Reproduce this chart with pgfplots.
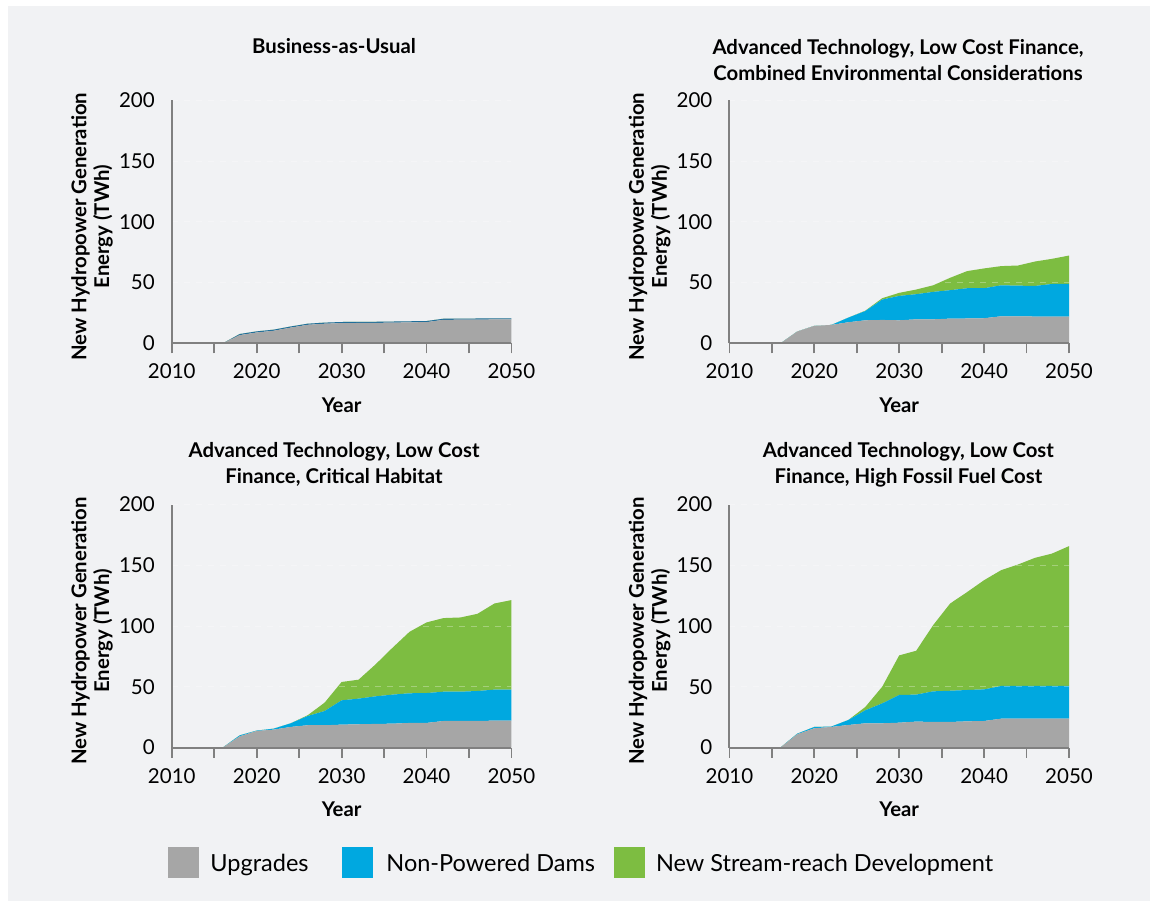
\documentclass[border=0pt]{standalone}
\usepackage{fontspec}
\setmainfont{Lato}
\usepackage{pgfplots}
\pgfplotsset{compat=1.18}
\definecolor{bg}{HTML}{F1F2F4}
\definecolor{upg}{HTML}{A6A6A6}
\definecolor{npd}{HTML}{00A8E0}
\definecolor{nsd}{HTML}{7DBD41}
\definecolor{axc}{HTML}{808080}
\definecolor{npdline}{HTML}{1F6E9A}

\pgfplotsset{
  panel/.style={
    scale only axis, width=169.8bp, height=121.5bp, anchor=south west,
    xmin=2010, xmax=2050, ymin=0, ymax=200,
    axis x line=bottom, axis y line=left,
    axis line style={axc, line width=1bp, -},
    xtick={2010,2015,...,2050},
    xticklabels={2010,,2020,,2030,,2040,,2050},
    ytick={0,50,100,150,200},
    tick align=outside,
    major tick length=5bp,
    xtick style={axc, line width=0.9bp},
    ytick style={draw=none},
    ticklabel style={font=\fontsize{10.3}{12}\selectfont, text=black},
    xticklabel style={yshift=-1.8bp},
    /pgf/number format/assume math mode=true,
    ymajorgrids, grid style={white, dashed, opacity=0.3, line width=0.5bp},
    axis on top,
    stack plots=y,
    xlabel={Year},
    ylabel={New Hydropower Generation\\Energy (TWh)},
    xlabel style={font=\bfseries\fontsize{10.2}{12}\selectfont, at={(axis description cs:0.5,-0.255)}, anchor=center},
    ylabel style={font=\bfseries\fontsize{10.2}{11.5}\selectfont, align=center, at={(axis description cs:-0.235,0.48)}, anchor=center},
  }
}

\begin{document}
\begin{tikzpicture}
\useasboundingbox (0,0) rectangle (575bp,450.5bp);
\fill[white] (0,0) rectangle (575bp,450.5bp);
\fill[bg] (4bp,0) rectangle (575bp,447.5bp);

% Panel 1: Business-as-Usual
\begin{axis}[panel, at={(85.9bp,278.8bp)}]
\addplot[fill=upg, draw=none] coordinates {
(2010,0)(2012,0)(2014,0)(2016,0)(2018,6.8)(2020,9)(2022,10.4)(2024,13)(2026,15.3)(2028,16.2)(2030,16.7)(2032,16.8)(2034,16.9)(2036,17.1)(2038,17.3)(2040,17.5)(2042,19.4)(2044,19.5)(2046,19.6)(2048,19.7)(2050,19.7)} \closedcycle;
\addplot[fill=npdline, draw=none] coordinates {
(2010,0)(2012,0)(2014,0)(2016,0)(2018,0.9)(2020,0.9)(2022,0.9)(2024,0.9)(2026,0.9)(2028,0.9)(2030,0.9)(2032,0.9)(2034,0.9)(2036,0.9)(2038,0.9)(2040,0.9)(2042,0.9)(2044,0.9)(2046,0.9)(2048,0.9)(2050,0.9)} \closedcycle;
\addplot[fill=nsd, draw=none] coordinates {
(2010,0)(2012,0)(2014,0)(2016,0)(2018,0)(2020,0)(2022,0)(2024,0)(2026,0)(2028,0)(2030,0)(2032,0)(2034,0)(2036,0)(2038,0)(2040,0)(2042,0)(2044,0)(2046,0)(2048,0)(2050,0)} \closedcycle;
\end{axis}

% Panel 2: Combined Environmental Considerations
\begin{axis}[panel, at={(364.7bp,278.8bp)}]
\addplot[fill=upg, draw=none] coordinates {
(2010,0)(2012,0)(2014,0)(2016,0)(2018,9.8)(2020,14.4)(2022,15.2)(2024,17.4)(2026,19)(2028,19.3)(2030,19)(2032,19.8)(2034,19.8)(2036,20.4)(2038,20.5)(2040,20.7)(2042,22.3)(2044,22.3)(2046,22.1)(2048,22)(2050,22)} \closedcycle;
\addplot[fill=npd, draw=none] coordinates {
(2010,0)(2012,0)(2014,0)(2016,0)(2018,0)(2020,0)(2022,0)(2024,3.8)(2026,7.6)(2028,16.8)(2030,20.1)(2032,20.7)(2034,22.6)(2036,23.4)(2038,24.9)(2040,24.7)(2042,25.5)(2044,25.2)(2046,25.2)(2048,26.9)(2050,26.9)} \closedcycle;
\addplot[fill=nsd, draw=none] coordinates {
(2010,0)(2012,0)(2014,0)(2016,0)(2018,0)(2020,0)(2022,0)(2024,0)(2026,0.3)(2028,1.1)(2030,2.5)(2032,3.8)(2034,5.4)(2036,10.2)(2038,14.1)(2040,16.3)(2042,15.8)(2044,16.6)(2046,20.1)(2048,20.7)(2050,23.4)} \closedcycle;
\end{axis}

% Panel 3: Critical Habitat
\begin{axis}[panel, at={(85.9bp,76.7bp)}]
\addplot[fill=upg, draw=none] coordinates {
(2010,0)(2012,0)(2014,0)(2016,0)(2018,9.3)(2020,13.7)(2022,14.8)(2024,17)(2026,18.4)(2028,18.4)(2030,18.9)(2032,19.2)(2034,19.5)(2036,19.7)(2038,20.3)(2040,20.3)(2042,21.9)(2044,21.9)(2046,21.9)(2048,22.2)(2050,22.2)} \closedcycle;
\addplot[fill=npd, draw=none] coordinates {
(2010,0)(2012,0)(2014,0)(2016,0)(2018,0.8)(2020,0.3)(2022,0.8)(2024,3)(2026,7.6)(2028,11.7)(2030,20)(2032,21.1)(2034,22.7)(2036,23.9)(2038,24.4)(2040,24.6)(2042,24.1)(2044,24.1)(2046,24.7)(2048,25.5)(2050,25.5)} \closedcycle;
\addplot[fill=nsd, draw=none] coordinates {
(2010,0)(2012,0)(2014,0)(2016,0)(2018,0)(2020,0)(2022,0)(2024,0)(2026,0.6)(2028,6.9)(2030,15.1)(2032,15.6)(2034,26.3)(2036,38.6)(2038,50.6)(2040,58.1)(2042,60.6)(2044,61.1)(2046,63.5)(2048,70.9)(2050,73.7)} \closedcycle;
\end{axis}

% Panel 4: High Fossil Fuel Cost
\begin{axis}[panel, at={(364.7bp,76.7bp)}]
\addplot[fill=upg, draw=none] coordinates {
(2010,0)(2012,0)(2014,0)(2016,0)(2018,11)(2020,15.9)(2022,17)(2024,18.6)(2026,20)(2028,20)(2030,20.5)(2032,21.4)(2034,21.1)(2036,21.1)(2038,21.6)(2040,21.9)(2042,23.8)(2044,23.8)(2046,23.8)(2048,23.8)(2050,23.8)} \closedcycle;
\addplot[fill=npd, draw=none] coordinates {
(2010,0)(2012,0)(2014,0)(2016,0)(2018,0.5)(2020,1.1)(2022,0.3)(2024,4.1)(2026,10.7)(2028,16.4)(2030,22.8)(2032,22.2)(2034,25.2)(2036,25.7)(2038,25.8)(2040,26)(2042,26.9)(2044,26.9)(2046,26.9)(2048,26.9)(2050,26.9)} \closedcycle;
\addplot[fill=nsd, draw=none] coordinates {
(2010,0)(2012,0)(2014,0)(2016,0)(2018,0)(2020,0)(2022,0)(2024,0)(2026,2.7)(2028,13.7)(2030,32.6)(2032,36.1)(2034,54.5)(2036,71.8)(2038,80.6)(2040,89.9)(2042,95.3)(2044,100)(2046,105.5)(2048,109)(2050,115.1)} \closedcycle;
\end{axis}

% Titles
\begin{scope}[every node/.style={font=\bfseries\fontsize{10.2}{13}\selectfont, align=center, anchor=center}]
\node at (167bp,427.5bp) {Business-as-Usual};
\node at (449bp,420.5bp) {Advanced Technology, Low Cost Finance,\\Combined Environmental Considerations};
\node at (167bp,218.2bp) {Advanced Technology, Low Cost\\Finance, Critical Habitat};
\node at (454.2bp,218.2bp) {Advanced Technology, Low Cost\\Finance, High Fossil Fuel Cost};
\end{scope}

% Legend
\begin{scope}[every node/.style={font=\fontsize{11.8}{13}\selectfont, anchor=base west, inner sep=0pt}]
\fill[upg] (84bp,11.5bp) rectangle (99.5bp,27bp);
\node at (105bp,15bp) {Upgrades};
\fill[npd] (171bp,11.5bp) rectangle (186.5bp,27bp);
\node at (193bp,15bp) {Non-Powered Dams};
\fill[nsd] (307bp,11.5bp) rectangle (322.5bp,27bp);
\node at (327.8bp,15bp) {New Stream-reach Development};
\end{scope}
\end{tikzpicture}
\end{document}
